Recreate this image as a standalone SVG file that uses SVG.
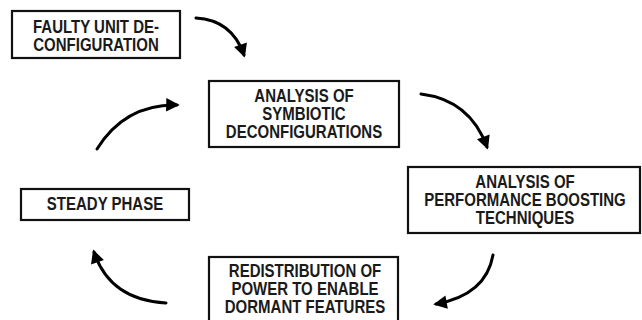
<svg xmlns="http://www.w3.org/2000/svg" width="642" height="320" viewBox="0 0 642 320">
<defs>
<style>
.box{fill:#fff;stroke:#111;stroke-width:2.2}
.t{font-family:"Liberation Sans",Arial,sans-serif;font-weight:bold;font-size:15px;fill:#1a1a1a;text-anchor:middle}
.arr{fill:none;stroke:#000;stroke-width:3;stroke-linecap:round}
</style>
<marker id="ah" viewBox="0 0 10 10" refX="8" refY="5" markerWidth="4.8" markerHeight="4.5" orient="auto" markerUnits="strokeWidth">
<path d="M0,0 L10,5 L0,10 Z" fill="#000"/>
</marker>
</defs>
<rect width="642" height="320" fill="#fff"/>
<g id="faulty">
<rect class="box" x="12" y="11" width="168" height="47"/>
<text class="t" transform="translate(96,33) scale(1,1.17)">FAULTY UNIT DE-</text>
<text class="t" transform="translate(96,51) scale(1,1.17)">CONFIGURATION</text>
</g>
<g id="symbiotic">
<rect class="box" x="209" y="81" width="190" height="66"/>
<text class="t" transform="translate(304,102) scale(1,1.17)">ANALYSIS OF</text>
<text class="t" transform="translate(304,120) scale(1,1.17)">SYMBIOTIC</text>
<text class="t" transform="translate(304,138) scale(1,1.17)">DECONFIGURATIONS</text>
</g>
<g id="performance">
<rect class="box" x="408" y="167" width="232" height="66"/>
<text class="t" transform="translate(525,188) scale(1,1.17)">ANALYSIS OF</text>
<text class="t" transform="translate(525,206) scale(1,1.17)">PERFORMANCE BOOSTING</text>
<text class="t" transform="translate(525,224) scale(1,1.17)">TECHNIQUES</text>
</g>
<g id="steady">
<rect class="box" x="21" y="189" width="168" height="31"/>
<text class="t" transform="translate(105,210) scale(1,1.17)">STEADY PHASE</text>
</g>
<g id="redistribution">
<rect class="box" x="209" y="257" width="189" height="66"/>
<text class="t" transform="translate(305,277) scale(1,1.17)">REDISTRIBUTION OF</text>
<text class="t" transform="translate(305,295) scale(1,1.17)">POWER TO ENABLE</text>
<text class="t" transform="translate(305,313) scale(1,1.17)">DORMANT FEATURES</text>
</g>
<g id="connectors">
<path class="arr" d="M196,18 Q232,20 244,55" marker-end="url(#ah)"/>
<path class="arr" d="M97,149 Q125,104 177,105" marker-end="url(#ah)"/>
<path class="arr" d="M421,94 Q470,100 487,147" marker-end="url(#ah)"/>
<path class="arr" d="M493,255 Q486,295 436,304" marker-end="url(#ah)"/>
<path class="arr" d="M166,303 Q110,300 94,252" marker-end="url(#ah)"/>
</g>
</svg>
